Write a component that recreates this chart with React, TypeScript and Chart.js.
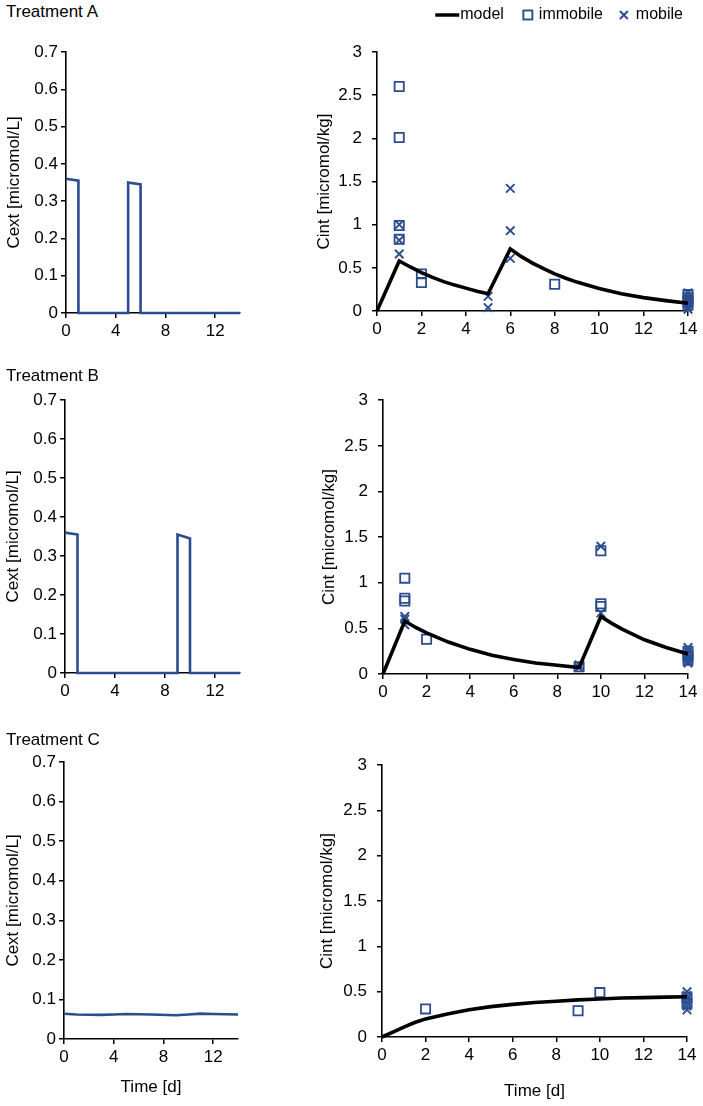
import React, { useEffect, useRef } from 'react';
import { Chart, registerables } from 'chart.js';

Chart.register(...registerables);

const BLUE = '#2b4c8e';
const FONT = '"Liberation Sans", Arial, Helvetica, sans-serif';
Chart.defaults.font.family = FONT;

// ---------- text ----------
const treatmentLabels = ['Treatment A', 'Treatment B', 'Treatment C'];
const legendLabels = ['model', 'immobile', 'mobile'];
const cextTitle = 'Cext [micromol/L]';
const cintTitle = 'Cint [micromol/kg]';
const timeTitle = 'Time [d]';

// ---------- Cext (left panels) ----------
const cextA_t = [0, 1, 1, 5, 5, 6, 6, 14];
const cextA_c = [0.36, 0.355, 0, 0, 0.35, 0.345, 0, 0];
const cextB_t = [0, 1, 1, 9, 9, 10, 10, 14];
const cextB_c = [0.36, 0.355, 0, 0, 0.355, 0.345, 0, 0];
const cextC_t = [0, 1, 3, 4, 5, 7, 9, 10, 11, 12, 14];
const cextC_c = [0.064, 0.062, 0.061, 0.062, 0.063, 0.062, 0.06, 0.062, 0.064, 0.063, 0.062];

// ---------- Cint model (right panels) ----------
const modelA_t = [0, 1, 1.5, 2, 2.5, 3, 3.5, 4, 4.5, 5, 6, 6.5, 7, 7.5, 8, 8.5, 9, 10, 11, 12, 13, 14];
const modelA_c = [0, 0.58, 0.51, 0.445, 0.39, 0.34, 0.3, 0.265, 0.23, 0.2, 0.72, 0.63, 0.555, 0.49, 0.43, 0.38, 0.335, 0.26, 0.2, 0.155, 0.12, 0.09];
const modelB_t = [0, 1, 1.5, 2, 3, 4, 5, 6, 7, 8, 9, 10, 10.5, 11, 12, 13, 14];
const modelB_c = [0, 0.58, 0.51, 0.45, 0.35, 0.27, 0.205, 0.16, 0.12, 0.095, 0.07, 0.63, 0.555, 0.49, 0.375, 0.29, 0.22];
const modelC_t = [0, 0.5, 1, 1.5, 2, 3, 4, 5, 6, 7, 8, 9, 10, 11, 12, 13, 14];
const modelC_c = [0, 0.055, 0.11, 0.16, 0.2, 0.255, 0.3, 0.335, 0.36, 0.38, 0.395, 0.41, 0.42, 0.43, 0.435, 0.44, 0.445];

// ---------- Cint observations ----------
const immA_t = [1, 1, 1, 1, 2, 2, 8, 14, 14, 14, 14];
const immA_c = [2.6, 2.01, 0.99, 0.83, 0.43, 0.33, 0.31, 0.19, 0.15, 0.11, 0.07];
const mobA_t = [1, 1, 1, 5, 5, 6, 6, 6, 14, 14, 14, 14, 14, 14];
const mobA_c = [1.0, 0.82, 0.66, 0.17, 0.04, 1.42, 0.93, 0.61, 0.21, 0.17, 0.13, 0.09, 0.05, 0.02];

const immB_t = [1, 1, 1, 2, 9, 10, 10, 10, 14, 14, 14];
const immB_c = [1.05, 0.83, 0.8, 0.38, 0.08, 1.35, 0.77, 0.74, 0.25, 0.2, 0.15];
const mobB_t = [1, 1, 1, 9, 9, 10, 10, 14, 14, 14, 14, 14, 14];
const mobB_c = [0.63, 0.6, 0.54, 0.1, 0.07, 1.4, 0.67, 0.29, 0.25, 0.21, 0.17, 0.14, 0.12];

const immC_t = [2, 9, 10, 14, 14];
const immC_c = [0.31, 0.29, 0.49, 0.44, 0.37];
const mobC_t = [14, 14, 14, 14, 14, 14];
const mobC_c = [0.5, 0.46, 0.42, 0.38, 0.34, 0.3];

const pts = (t: number[], c: number[]) => t.map((x, i) => ({ x, y: c[i] }));
const fmt = (v: any) => String(Math.round(Number(v) * 100) / 100);

// ---------- custom legend ----------
const legendPlugin = {
  id: 'customLegend',
  afterDraw(chart: any, _args: any, opts: any) {
    if (!opts || !opts.show) return;
    const ctx = chart.ctx;
    const off = opts.canvasLeft;
    ctx.save();
    ctx.font = `16px ${FONT}`;
    ctx.textBaseline = 'middle';
    ctx.fillStyle = '#000';
    const y = opts.y;
    const [lModel, lImm, lMob] = legendLabels;
    const mobEnd = opts.rightEnd - off;
    const mobStart = mobEnd - ctx.measureText(lMob).width;
    ctx.fillText(lMob, mobStart, y);
    const crossX = mobStart - 12;
    ctx.strokeStyle = BLUE;
    ctx.lineWidth = 1.9;
    ctx.beginPath();
    ctx.moveTo(crossX - 4, y - 4);
    ctx.lineTo(crossX + 4, y + 4);
    ctx.moveTo(crossX - 4, y + 4);
    ctx.lineTo(crossX + 4, y - 4);
    ctx.stroke();
    const immEnd = crossX - 21;
    const immStart = immEnd - ctx.measureText(lImm).width;
    ctx.fillText(lImm, immStart, y);
    const sqX = immStart - 11;
    ctx.strokeRect(sqX - 4.5, y - 4.5, 9, 9);
    const modEnd = sqX - 24;
    const modStart = modEnd - ctx.measureText(lModel).width;
    ctx.fillText(lModel, modStart, y);
    ctx.strokeStyle = '#000';
    ctx.lineWidth = 3.5;
    ctx.beginPath();
    ctx.moveTo(modStart - 25, y);
    ctx.lineTo(modStart - 1, y);
    ctx.stroke();
    ctx.restore();
  },
};

type Box = { x: number; y: number; w: number; h: number };
type Area = { l: number; t: number; r: number; b: number };
type Spec = {
  kind: 'ext' | 'int';
  canvas: Box;
  area: Area;
  yTitlePad: number;
  xTitle?: boolean;
  xTitlePad?: number;
  legend?: boolean;
  datasets: any[];
};

const axisCommon = {
  grid: { display: true, drawOnChartArea: false, drawTicks: true, tickLength: 5, color: '#000', lineWidth: 1.5 },
  border: { display: true, color: '#000', width: 1.6 },
};

function Panel({ spec }: { spec: Spec }) {
  const ref = useRef<HTMLCanvasElement | null>(null);
  useEffect(() => {
    const { canvas, area, kind } = spec;
    const padTop = area.t - canvas.y;
    const padRight = canvas.x + canvas.w - area.r;
    const yW = area.l - canvas.x;
    const xH = canvas.y + canvas.h - area.b;
    const chart = new Chart(ref.current as HTMLCanvasElement, {
      type: 'scatter',
      data: { datasets: spec.datasets },
      plugins: [legendPlugin],
      options: {
        responsive: false,
        animation: false,
        devicePixelRatio: 1,
        layout: { padding: { top: padTop, right: padRight, left: 0, bottom: 0 } },
        plugins: {
          legend: { display: false },
          tooltip: { enabled: false },
          customLegend: { show: !!spec.legend, canvasLeft: canvas.x, rightEnd: 683, y: 15 - canvas.y },
        } as any,
        scales: {
          x: {
            type: 'linear',
            min: 0,
            max: 14,
            afterFit: (s: any) => { s.height = xH; },
            ticks: {
              stepSize: kind === 'ext' ? 4 : 2,
              includeBounds: false,
              autoSkip: false,
              maxRotation: 0,
              padding: 3,
              color: '#000',
              font: { size: 17, family: FONT },
              callback: fmt,
            },
            title: {
              display: !!spec.xTitle,
              text: timeTitle,
              color: '#000',
              font: { size: 17, family: FONT },
              padding: { top: 0, bottom: spec.xTitlePad || 0 },
            },
            ...axisCommon,
          },
          y: {
            type: 'linear',
            min: 0,
            max: kind === 'ext' ? 0.7 : 3,
            afterFit: (s: any) => { s.width = yW; },
            ticks: {
              stepSize: kind === 'ext' ? 0.1 : 0.5,
              autoSkip: false,
              padding: kind === 'ext' ? 3 : 10,
              color: '#000',
              font: { size: 17, family: FONT },
              callback: fmt,
            },
            title: {
              display: true,
              text: kind === 'ext' ? cextTitle : cintTitle,
              color: '#000',
              font: { size: 17, family: FONT },
              padding: { top: spec.yTitlePad, bottom: 0 },
            },
            ...axisCommon,
          },
        },
      } as any,
    });
    return () => chart.destroy();
  }, [spec]);
  const { canvas } = spec;
  return (
    <canvas
      ref={ref}
      width={canvas.w}
      height={canvas.h}
      style={{ position: 'absolute', left: canvas.x, top: canvas.y, width: canvas.w, height: canvas.h }}
    />
  );
}

const extLine = (t: number[], c: number[]) => ({
  data: pts(t, c),
  showLine: true,
  pointRadius: 0,
  borderColor: BLUE,
  borderWidth: 2.6,
  fill: false,
  tension: 0,
  clip: false,
});
const modelLine = (t: number[], c: number[]) => ({
  label: legendLabels[0],
  data: pts(t, c),
  showLine: true,
  pointRadius: 0,
  borderColor: '#000',
  borderWidth: 3.6,
  fill: false,
  tension: 0,
  clip: false,
});
const immSet = (t: number[], c: number[]) => ({
  label: legendLabels[1],
  data: pts(t, c),
  showLine: false,
  pointStyle: 'rect',
  pointRadius: 6.5,
  backgroundColor: 'rgba(0,0,0,0)',
  borderColor: BLUE,
  pointBorderWidth: 1.8,
  clip: false,
});
const mobSet = (t: number[], c: number[]) => ({
  label: legendLabels[2],
  data: pts(t, c),
  showLine: false,
  pointStyle: 'crossRot',
  pointRadius: 6,
  backgroundColor: BLUE,
  borderColor: BLUE,
  pointBorderWidth: 1.9,
  clip: false,
});

const SPECS: Spec[] = [
  { kind: 'ext', canvas: { x: 0, y: 30, w: 250, h: 315 }, area: { l: 66, t: 52, r: 240, b: 313 }, yTitlePad: 4,
    datasets: [extLine(cextA_t, cextA_c)] },
  { kind: 'int', canvas: { x: 310, y: 0, w: 393, h: 345 }, area: { l: 377, t: 52, r: 688, b: 311 }, yTitlePad: 4, legend: true,
    datasets: [modelLine(modelA_t, modelA_c), immSet(immA_t, immA_c), mobSet(mobA_t, mobA_c)] },
  { kind: 'ext', canvas: { x: 0, y: 380, w: 250, h: 330 }, area: { l: 65, t: 400, r: 240, b: 673 }, yTitlePad: 3,
    datasets: [extLine(cextB_t, cextB_c)] },
  { kind: 'int', canvas: { x: 310, y: 380, w: 393, h: 330 }, area: { l: 383, t: 399, r: 688, b: 674 }, yTitlePad: 9,
    datasets: [modelLine(modelB_t, modelB_c), immSet(immB_t, immB_c), mobSet(mobB_t, mobB_c)] },
  { kind: 'ext', canvas: { x: 0, y: 745, w: 250, h: 361 }, area: { l: 64, t: 762, r: 238, b: 1039 }, yTitlePad: 3, xTitle: true, xTitlePad: 8,
    datasets: [extLine(cextC_t, cextC_c)] },
  { kind: 'int', canvas: { x: 310, y: 745, w: 393, h: 361 }, area: { l: 382, t: 762, r: 687, b: 1037 }, yTitlePad: 7, xTitle: true, xTitlePad: 4,
    datasets: [modelLine(modelC_t, modelC_c), immSet(immC_t, immC_c), mobSet(mobC_t, mobC_c)] },
];

const LABEL_TOPS = [2, 366, 730];

export default function App() {
  return (
    <div style={{ position: 'absolute', left: 0, top: 0, width: 703, height: 1106, background: '#fff', overflow: 'hidden' }}>
      {SPECS.map((s, i) => <Panel key={i} spec={s} />)}
      {treatmentLabels.map((t, i) => (
        <div
          key={t}
          style={{ position: 'absolute', left: 6, top: LABEL_TOPS[i], font: `17px ${FONT}`, lineHeight: '20px', color: '#000', whiteSpace: 'nowrap' }}
        >
          {t}
        </div>
      ))}
    </div>
  );
}
